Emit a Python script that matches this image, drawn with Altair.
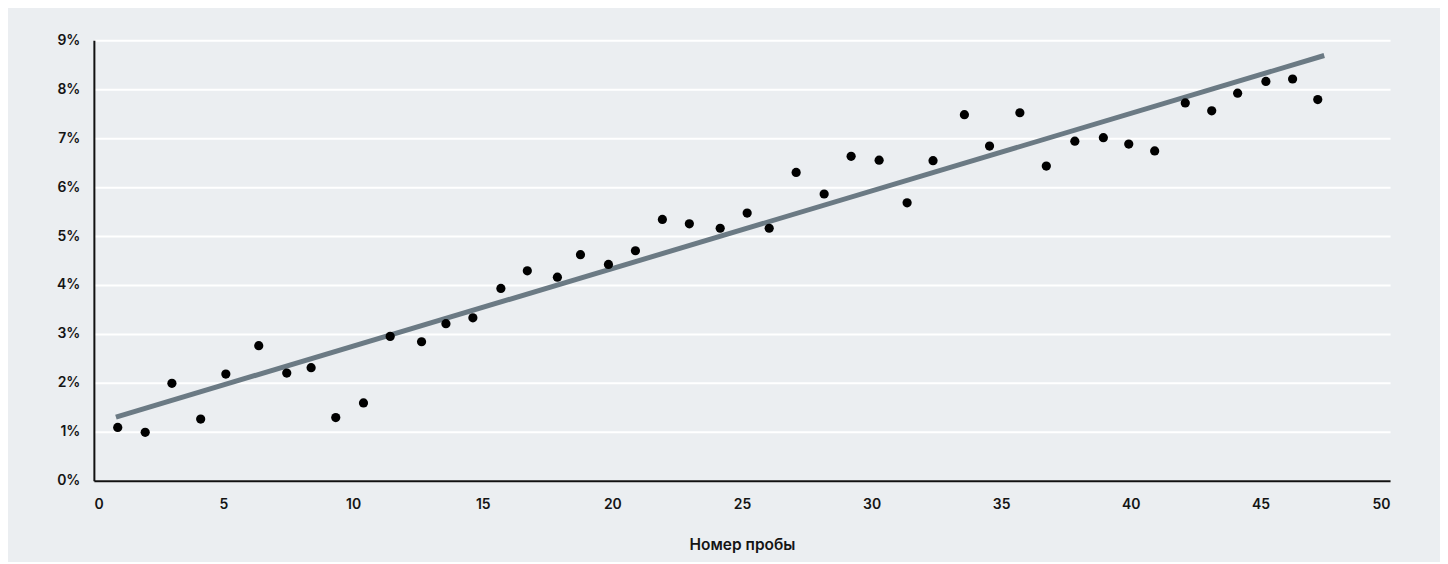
import altair as alt
import pandas as pd

# Sample number (x) and measured value in percent (y)
sample_x = [0.92, 1.98, 3.01, 4.12, 5.09, 6.36, 7.44, 8.38, 9.33, 10.40,
            11.43, 12.64, 13.58, 14.62, 15.70, 16.72, 17.88, 18.77, 19.85, 20.89,
            21.93, 22.97, 24.16, 25.20, 26.05, 27.09, 28.17, 29.21, 30.29, 31.37,
            32.37, 33.58, 34.55, 35.72, 36.74, 37.84, 38.94, 39.92, 40.92, 42.10,
            43.12, 44.12, 45.21, 46.24, 47.21]
sample_y = [1.09, 0.99, 1.99, 1.26, 2.18, 2.76, 2.20, 2.31, 1.29, 1.59,
            2.95, 2.84, 3.21, 3.33, 3.93, 4.29, 4.16, 4.62, 4.42, 4.70,
            5.34, 5.25, 5.16, 5.47, 5.16, 6.30, 5.86, 6.63, 6.55, 5.68,
            6.54, 7.48, 6.84, 7.52, 6.43, 6.94, 7.01, 6.88, 6.74, 7.72,
            7.56, 7.92, 8.16, 8.21, 7.79]

# Trend line end points
trend_x = [0.85, 47.46]
trend_y = [1.30, 8.69]

x_ticks = [0, 5, 10, 15, 20, 25, 30, 35, 40, 45, 50]
y_ticks = [0, 1, 2, 3, 4, 5, 6, 7, 8, 9]

pts = pd.DataFrame({"x": sample_x, "y": sample_y})
trend = pd.DataFrame({"x": trend_x, "y": trend_y})

FONT = "Inter"
WEIGHT = 600
TXT = "#141414"

x_scale = alt.Scale(domain=[0, 50], nice=False, zero=False)
y_scale = alt.Scale(domain=[0, 9], nice=False)

x_axis = alt.Axis(values=x_ticks, title="Номер пробы", grid=False, ticks=False,
                  domainColor="#111111", domainWidth=2, labelPadding=17,
                  labelFontSize=14, labelFont=FONT, labelFontWeight=WEIGHT,
                  labelColor=TXT, titleFont=FONT, titleFontSize=15.5,
                  titleFontWeight=WEIGHT, titleColor=TXT, titlePadding=26)
y_axis = alt.Axis(values=y_ticks, title=None, ticks=False, grid=True,
                  gridColor="#ffffff", gridWidth=2, domainColor="#111111",
                  domainWidth=2, labelPadding=14, labelFontSize=14,
                  labelFont=FONT, labelFontWeight=WEIGHT, labelColor=TXT,
                  labelExpr="datum.value + '%'")

line = alt.Chart(trend).mark_line(color="#6b7a84", strokeWidth=5, strokeCap="butt").encode(
    x=alt.X("x:Q", scale=x_scale, axis=x_axis),
    y=alt.Y("y:Q", scale=y_scale, axis=y_axis),
)

dots = alt.Chart(pts).mark_circle(color="#000000", opacity=1, size=85).encode(
    x=alt.X("x:Q", scale=x_scale),
    y=alt.Y("y:Q", scale=y_scale),
)

chart = (line + dots).properties(
    width=1298, height=441,
    background="#ebeef1",
    padding={"left": 86, "top": 32, "right": 50, "bottom": 81},
    autosize=alt.AutoSizeParams(type="none"),
).configure_view(stroke=None)

chart.save("out.html", embed_options={"renderer": "svg", "actions": False})
